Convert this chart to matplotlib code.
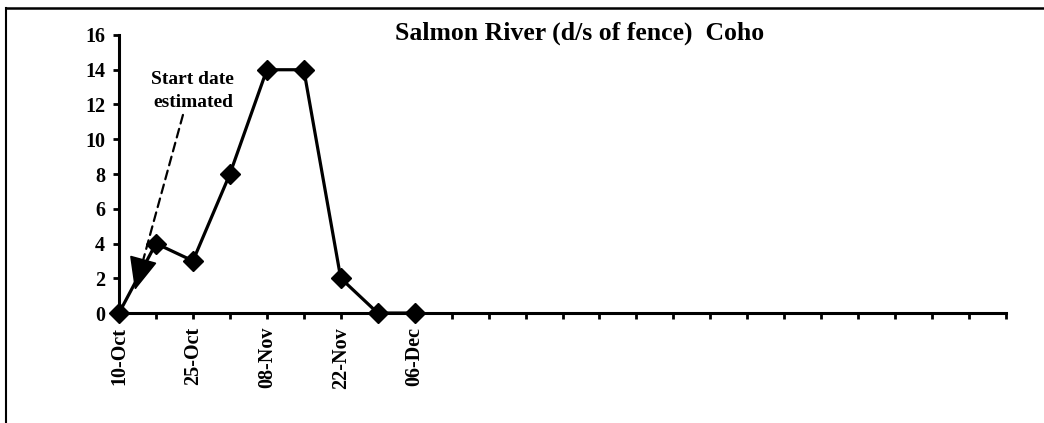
import matplotlib.pyplot as plt
from matplotlib.lines import Line2D

# weekly categories, labels shown on every other one
dates = ['10-Oct', '18-Oct', '25-Oct', '01-Nov', '08-Nov', '15-Nov',
         '22-Nov', '29-Nov', '06-Dec']
counts = [0, 4, 3, 8, 14, 14, 2, 0, 0]
nCategories = 25

title = 'Salmon River (d/s of fence)  Coho'
note = 'Start date\nestimated'

plt.rcParams['font.family'] = ['Liberation Serif', 'DejaVu Serif']
plt.rcParams['font.weight'] = 'bold'

fig = plt.figure(figsize=(10.44, 4.23), dpi=100)
ax = fig.add_axes([0.114, 0.26, 0.8496, 0.6573])

x = list(range(len(counts)))
ax.plot(x, counts, color='black', linewidth=2.3, marker='D', markersize=10,
        clip_on=False, zorder=5)

ax.set_xlim(0, nCategories - 1)
ax.set_ylim(0, 16)
ax.set_yticks(range(0, 17, 2))
ax.set_xticks(range(nCategories))
labels = []
for i in range(nCategories):
    if i < len(dates) and i % 2 == 0:
        labels.append(dates[i])
    else:
        labels.append('')
ax.set_xticklabels(labels, rotation=90, fontsize=14.5, fontweight='bold')
for t in ax.get_yticklabels():
    t.set_fontsize(14.5)
    t.set_fontweight('bold')

for s in ['top', 'right']:
    ax.spines[s].set_visible(False)
for s in ['left', 'bottom']:
    ax.spines[s].set_linewidth(2.2)
ax.tick_params(axis='both', direction='out', length=4, width=2, pad=6)

ax.text(0.519, 1.007, title, transform=ax.transAxes, fontsize=18.5,
        fontweight='bold', ha='center', va='center')

# note and dashed arrow to the estimated start
ax.text(2.0, 12.8, note, ha='center', va='center', fontsize=14,
        fontweight='bold', linespacing=1.45)
start = (1.73, 11.4)
tip = (0.43, 1.32)
neck = (tip[0] + 0.16 * (start[0] - tip[0]), tip[1] + 0.16 * (start[1] - tip[1]))
ax.annotate('', xy=neck, xytext=start, zorder=6,
            arrowprops=dict(arrowstyle='-', linestyle=(0, (4, 2.5)),
                            color='black', lw=1.6, shrinkA=0, shrinkB=0))
ax.annotate('', xy=tip, xytext=neck, zorder=6,
            arrowprops=dict(arrowstyle='-|>,head_length=1.5,head_width=0.65',
                            mutation_scale=14, color='black', lw=1.2,
                            shrinkA=0, shrinkB=0))

# scanned page frame (top and left only)
fig.add_artist(Line2D([0.006, 1.0], [0.982, 0.982], color='black', lw=1.8))
fig.add_artist(Line2D([0.006, 0.006], [0.0, 0.982], color='black', lw=1.5))

fig.savefig('out.png', dpi=100)
